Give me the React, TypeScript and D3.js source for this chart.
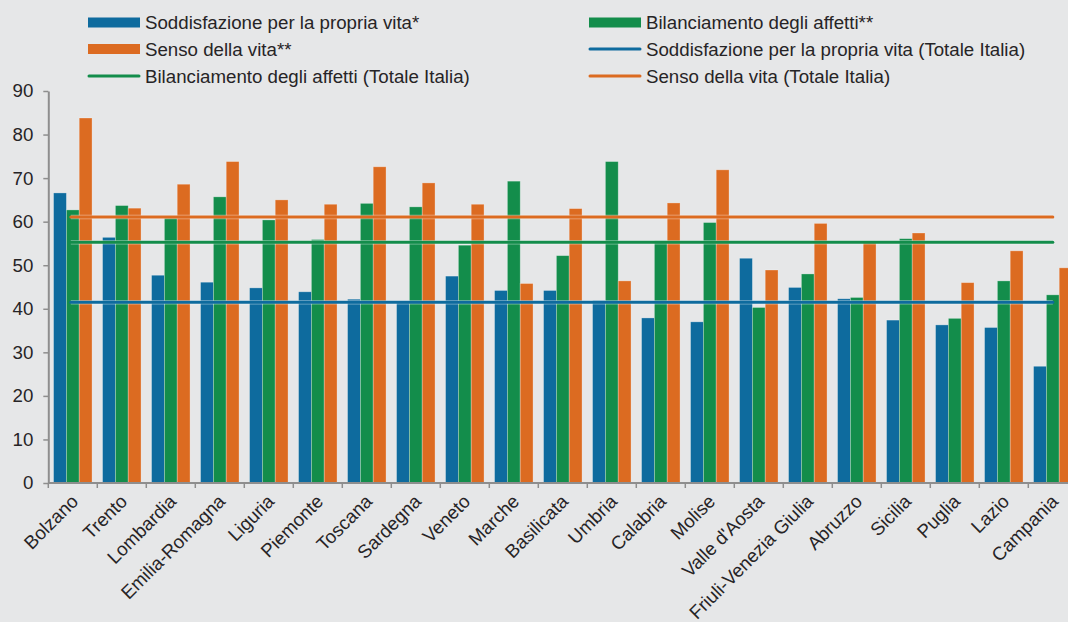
import React, { useEffect, useRef } from 'react';
import * as d3 from 'd3';

const regions = [
  'Bolzano', 'Trento', 'Lombardia', 'Emilia-Romagna', 'Liguria', 'Piemonte',
  'Toscana', 'Sardegna', 'Veneto', 'Marche', 'Basilicata', 'Umbria', 'Calabria',
  'Molise', "Valle d'Aosta", 'Friuli-Venezia Giulia', 'Abruzzo', 'Sicilia',
  'Puglia', 'Lazio', 'Campania',
];

const soddisfazione = [
  66.6, 56.4, 47.7, 46.1, 44.8, 43.9, 42.2, 41.7, 47.5, 44.2, 44.2, 41.9, 37.9,
  37.0, 51.6, 44.9, 42.3, 37.4, 36.3, 35.7, 26.8,
];
const bilanciamento = [
  62.7, 63.7, 60.8, 65.7, 60.4, 55.9, 64.2, 63.4, 54.6, 69.3, 52.2, 73.8, 55.6,
  59.8, 40.3, 48.0, 42.6, 56.1, 37.8, 46.4, 43.2,
];
const senso = [
  83.8, 63.1, 68.6, 73.8, 65.0, 64.0, 72.6, 68.9, 64.0, 45.8, 63.0, 46.4, 64.3,
  71.9, 48.9, 59.6, 55.4, 57.4, 46.0, 53.3, 49.4,
];

const totaleSoddisfazione = 41.5;
const totaleBilanciamento = 55.3;
const totaleSenso = 61.1;

const yTicks = [0, 10, 20, 30, 40, 50, 60, 70, 80, 90];

const BLUE = '#0e6b9e';
const GREEN = '#138d4b';
const ORANGE = '#dc6b21';

const seriesKeys = ['sod', 'bil', 'sen'];
const seriesValues: Record<string, number[]> = {
  sod: soddisfazione,
  bil: bilanciamento,
  sen: senso,
};
const seriesColors: Record<string, string> = { sod: BLUE, bil: GREEN, sen: ORANGE };

const legendItems = [
  { label: 'Soddisfazione per la propria vita*', color: BLUE, kind: 'bar', col: 0, row: 0 },
  { label: 'Bilanciamento degli affetti**', color: GREEN, kind: 'bar', col: 1, row: 0 },
  { label: 'Senso della vita**', color: ORANGE, kind: 'bar', col: 0, row: 1 },
  { label: 'Soddisfazione per la propria vita (Totale Italia)', color: BLUE, kind: 'line', col: 1, row: 1 },
  { label: 'Bilanciamento degli affetti (Totale Italia)', color: GREEN, kind: 'line', col: 0, row: 2 },
  { label: 'Senso della vita (Totale Italia)', color: ORANGE, kind: 'line', col: 1, row: 2 },
];

const totals = [
  { value: totaleSenso, color: ORANGE },
  { value: totaleBilanciamento, color: GREEN },
  { value: totaleSoddisfazione, color: BLUE },
];

export default function App() {
  const ref = useRef<SVGSVGElement>(null);

  useEffect(() => {
    document.body.style.margin = '0';
    const width = 1068;
    const height = 622;
    const font = 'Liberation Sans, Arial, sans-serif';
    const fontSize = 18.7;
    const textColor = '#262426';
    const axisColor = '#8e8e8e';

    const svg = d3.select(ref.current);
    svg.selectAll('*').remove();

    svg.append('rect').attr('width', width).attr('height', height).attr('fill', '#e6e7e8');

    const x0 = 48.3;
    const step = 49;

    const xScale = d3
      .scaleBand()
      .domain(regions)
      .range([x0, x0 + step * regions.length])
      .paddingInner(0)
      .paddingOuter(0);

    const xInner = d3
      .scaleBand()
      .domain(seriesKeys)
      .range([0, xScale.bandwidth()])
      .paddingInner(0)
      .paddingOuter(0.41);

    const yScale = d3.scaleLinear().domain([0, 90]).range([483, 91]);

    // bars
    const groups = svg
      .append('g')
      .selectAll('g')
      .data(regions)
      .enter()
      .append('g')
      .attr('transform', (d) => `translate(${xScale(d)}, 0)`);

    groups
      .selectAll('rect')
      .data((_, i) => seriesKeys.map((k) => ({ key: k, value: seriesValues[k][i] })))
      .enter()
      .append('rect')
      .attr('x', (d) => xInner(d.key) as number)
      .attr('y', (d) => yScale(d.value))
      .attr('width', xInner.bandwidth())
      .attr('height', (d) => yScale(0) - yScale(d.value))
      .attr('fill', (d) => seriesColors[d.key])
      .attr('stroke', 'rgba(255,255,255,0.35)')
      .attr('stroke-width', 0.8);

    // Totale Italia lines (first to last region)
    const lineStart = (xScale(regions[0]) as number) + xScale.bandwidth() / 2 - 2;
    const lineEnd = (xScale(regions[regions.length - 1]) as number) + xScale.bandwidth() / 2;
    totals.forEach((t) => {
      svg
        .append('line')
        .attr('x1', lineStart)
        .attr('x2', lineEnd)
        .attr('y1', yScale(t.value))
        .attr('y2', yScale(t.value))
        .attr('stroke', 'rgba(255,255,255,0.45)')
        .attr('stroke-width', 4.5);
      svg
        .append('line')
        .attr('x1', lineStart)
        .attr('x2', lineEnd)
        .attr('y1', yScale(t.value))
        .attr('y2', yScale(t.value))
        .attr('stroke', t.color)
        .attr('stroke-width', 3)
        .attr('stroke-linecap', 'round');
    });

    // y axis
    const yAxis = d3
      .axisLeft(yScale)
      .tickValues(yTicks)
      .tickSize(5)
      .tickPadding(10)
      .tickSizeOuter(0);
    const yG = svg.append('g').attr('transform', `translate(${x0}, 0)`).call(yAxis);
    yG.select('.domain').attr('stroke', axisColor).attr('stroke-width', 2);
    yG.selectAll('.tick line').attr('stroke', axisColor).attr('stroke-width', 1.5);
    yG.selectAll('.tick text')
      .attr('fill', textColor)
      .attr('font-family', font)
      .attr('font-size', fontSize);

    // x axis
    svg
      .append('line')
      .attr('x1', x0)
      .attr('x2', width)
      .attr('y1', yScale(0))
      .attr('y2', yScale(0))
      .attr('stroke', axisColor)
      .attr('stroke-width', 2);

    const boundaries = regions.map((r) => xScale(r) as number);
    svg
      .append('g')
      .selectAll('line')
      .data(boundaries)
      .enter()
      .append('line')
      .attr('x1', (d) => d)
      .attr('x2', (d) => d)
      .attr('y1', yScale(0))
      .attr('y2', yScale(0) + 5)
      .attr('stroke', axisColor)
      .attr('stroke-width', 1.5);

    svg
      .append('g')
      .selectAll('text')
      .data(regions)
      .enter()
      .append('text')
      .attr(
        'transform',
        (d) => `translate(${(xScale(d) as number) + xScale.bandwidth() / 2 + 2}, 498) rotate(-45)`
      )
      .attr('text-anchor', 'end')
      .attr('dy', '0.35em')
      .attr('fill', textColor)
      .attr('font-family', font)
      .attr('font-size', fontSize)
      .text((d) => d);

    // legend
    const colX = [88, 589];
    const rowY = [22.5, 49, 76];
    const legend = svg
      .append('g')
      .selectAll('g')
      .data(legendItems)
      .enter()
      .append('g')
      .attr('transform', (d) => `translate(${colX[d.col]}, ${rowY[d.row]})`);

    legend
      .filter((d) => d.kind === 'bar')
      .append('rect')
      .attr('x', 0)
      .attr('y', -5)
      .attr('width', 52)
      .attr('height', 10)
      .attr('fill', (d) => d.color);

    legend
      .filter((d) => d.kind === 'line')
      .append('line')
      .attr('x1', 1)
      .attr('x2', 51)
      .attr('y1', 0)
      .attr('y2', 0)
      .attr('stroke', (d) => d.color)
      .attr('stroke-width', 3)
      .attr('stroke-linecap', 'round');

    legend
      .append('text')
      .attr('x', 57)
      .attr('y', 0)
      .attr('dy', '0.35em')
      .attr('fill', textColor)
      .attr('font-family', font)
      .attr('font-size', fontSize)
      .text((d) => d.label);
  }, []);

  return <svg ref={ref} width={1068} height={622} style={{ display: 'block' }} />;
}
